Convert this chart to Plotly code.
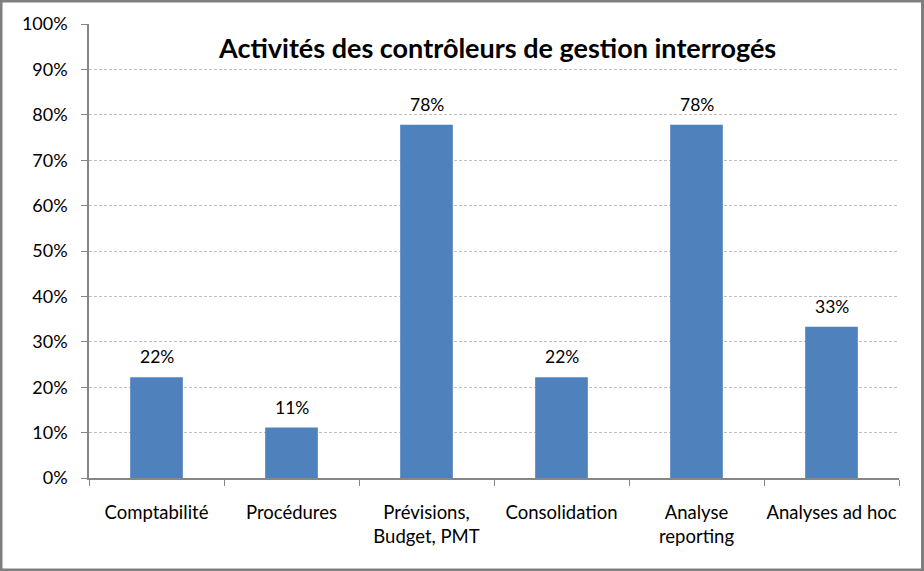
import plotly.graph_objects as go

categories = ["Comptabilité", "Procédures", "Prévisions,<br>Budget, PMT", "Consolidation", "Analyse<br>reporting", "Analyses ad hoc"]
values = [0.222, 0.111, 0.778, 0.222, 0.778, 0.333]
labels = ["22%", "11%", "78%", "22%", "78%", "33%"]
title = "Activités des contrôleurs de gestion interrogés"

fig = go.Figure(go.Bar(
    x=categories, y=values,
    marker=dict(color="#4F81BD", line=dict(width=0)),
    width=0.39, hoverinfo="skip",
))

annotations = [dict(x=c, y=v, text=t, xref="x", yref="y", showarrow=False,
                    yanchor="bottom", yshift=8,
                    font=dict(size=17.5, family="Lato", color="#000000"))
               for c, v, t in zip(categories, values, labels)]
annotations.append(dict(text="<b>" + title + "</b>", xref="paper", yref="paper",
                        x=0.504, y=0.949, xanchor="center", yanchor="middle",
                        showarrow=False, bgcolor="white",
                        font=dict(size=27, family="Lato", color="#000000")))

fig.update_layout(
    width=924, height=571,
    margin=dict(l=89, r=25, t=24, b=93),
    paper_bgcolor="white", plot_bgcolor="white",
    font=dict(family="Lato", size=18, color="#000000"),
    showlegend=False,
    xaxis=dict(showline=True, linecolor="#868686", linewidth=1.5,
               ticks="outside", ticklen=6, tickcolor="#868686", tickson="boundaries",
               tickfont=dict(size=18.5), showgrid=False, ticklabelstandoff=17,
               tickangle=0, automargin=False),
    yaxis=dict(range=[0, 1], tickformat=".0%", dtick=0.1,
               showline=True, linecolor="#868686", linewidth=1.5,
               ticks="outside", ticklen=6, tickcolor="#868686",
               showgrid=True, gridcolor="#bfbfbf", griddash="3px,2px", gridwidth=1,
               zeroline=False, tickfont=dict(size=18), ticklabelstandoff=10,
               automargin=False),
    annotations=annotations,
    shapes=[dict(type="rect", xref="paper", yref="paper", x0=-88/810, x1=1+23.5/810,
                 y0=-92/454, y1=1+23/454, line=dict(color="#7f7f7f", width=3))],
)

fig.write_html("out.html", config={"displayModeBar": False},
               post_script="document.body.style.margin='0';document.body.style.padding='0';")
